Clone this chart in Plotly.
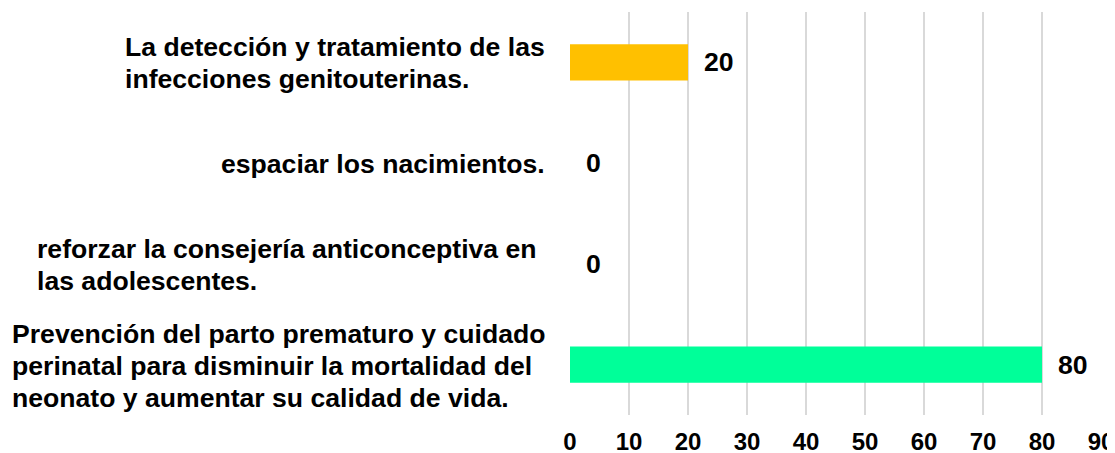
import plotly.graph_objects as go

categories = [
    "La detección y tratamiento de las<br>infecciones genitouterinas.",
    "espaciar los nacimientos.",
    "reforzar la consejería anticonceptiva en<br>las adolescentes.",
    "Prevención del parto prematuro y cuidado<br>perinatal para disminuir la mortalidad del<br>neonato y aumentar su calidad de vida.",
]
values = [20, 0, 0, 80]
bar_colors = ["#FFC000", "#FFC000", "#00FF99", "#00FF99"]
x_ticks = [0, 10, 20, 30, 40, 50, 60, 70, 80, 90]

FONT = "Arial, 'Liberation Sans', sans-serif"
FS = 26.6
LABEL_BASE = 24.7  # controls line spacing of wrapped labels
label_shift_px = [-23, -23, -31, -23]  # layout: gap between label block and axis

fig = go.Figure()
fig.add_trace(go.Bar(
    y=categories,
    x=values,
    orientation="h",
    marker=dict(color=bar_colors, line=dict(width=0)),
    width=0.36,
    hoverinfo="skip",
))

annotations = []
for cat, v, sh in zip(categories, values, label_shift_px):
    annotations.append(dict(
        x=0, y=cat, xref="x", yref="y",
        text='<span style="font-size:%.1fpx"><b>%s</b></span>' % (FS, cat),
        showarrow=False, xanchor="right", yanchor="middle", align="left",
        xshift=sh, yshift=-1,
        font=dict(family=FONT, size=LABEL_BASE, color="#000000"),
    ))
    annotations.append(dict(
        x=v, y=cat, xref="x", yref="y",
        text="<b>%d</b>" % v,
        showarrow=False, xanchor="left", yanchor="middle",
        xshift=14,
        font=dict(family=FONT, size=FS, color="#000000"),
    ))

# page body has an 8px margin; figure is sized/offset to compensate
fig.update_layout(
    width=1107, height=445,
    margin=dict(l=562, r=14, t=4, b=38, autoexpand=False),
    paper_bgcolor="white", plot_bgcolor="white",
    showlegend=False,
    annotations=annotations,
    xaxis=dict(
        range=[0, 90], tickvals=x_ticks,
        ticktext=["<b>%d</b>" % t for t in x_ticks],
        showgrid=True, gridcolor="#D9D9D9", gridwidth=1.5,
        zeroline=False, showline=False, ticks="",
        tickfont=dict(family=FONT, size=24, color="#000000"),
        ticklabelstandoff=10,
        ticklabeloverflow="allow",
        automargin=False,
        fixedrange=True,
    ),
    yaxis=dict(
        categoryorder="array", categoryarray=categories,
        autorange="reversed",
        showticklabels=False, showgrid=False, zeroline=False,
        showline=False, ticks="",
        automargin=False,
        fixedrange=True,
    ),
)

fig.write_html("out.html", config={"displayModeBar": False})
